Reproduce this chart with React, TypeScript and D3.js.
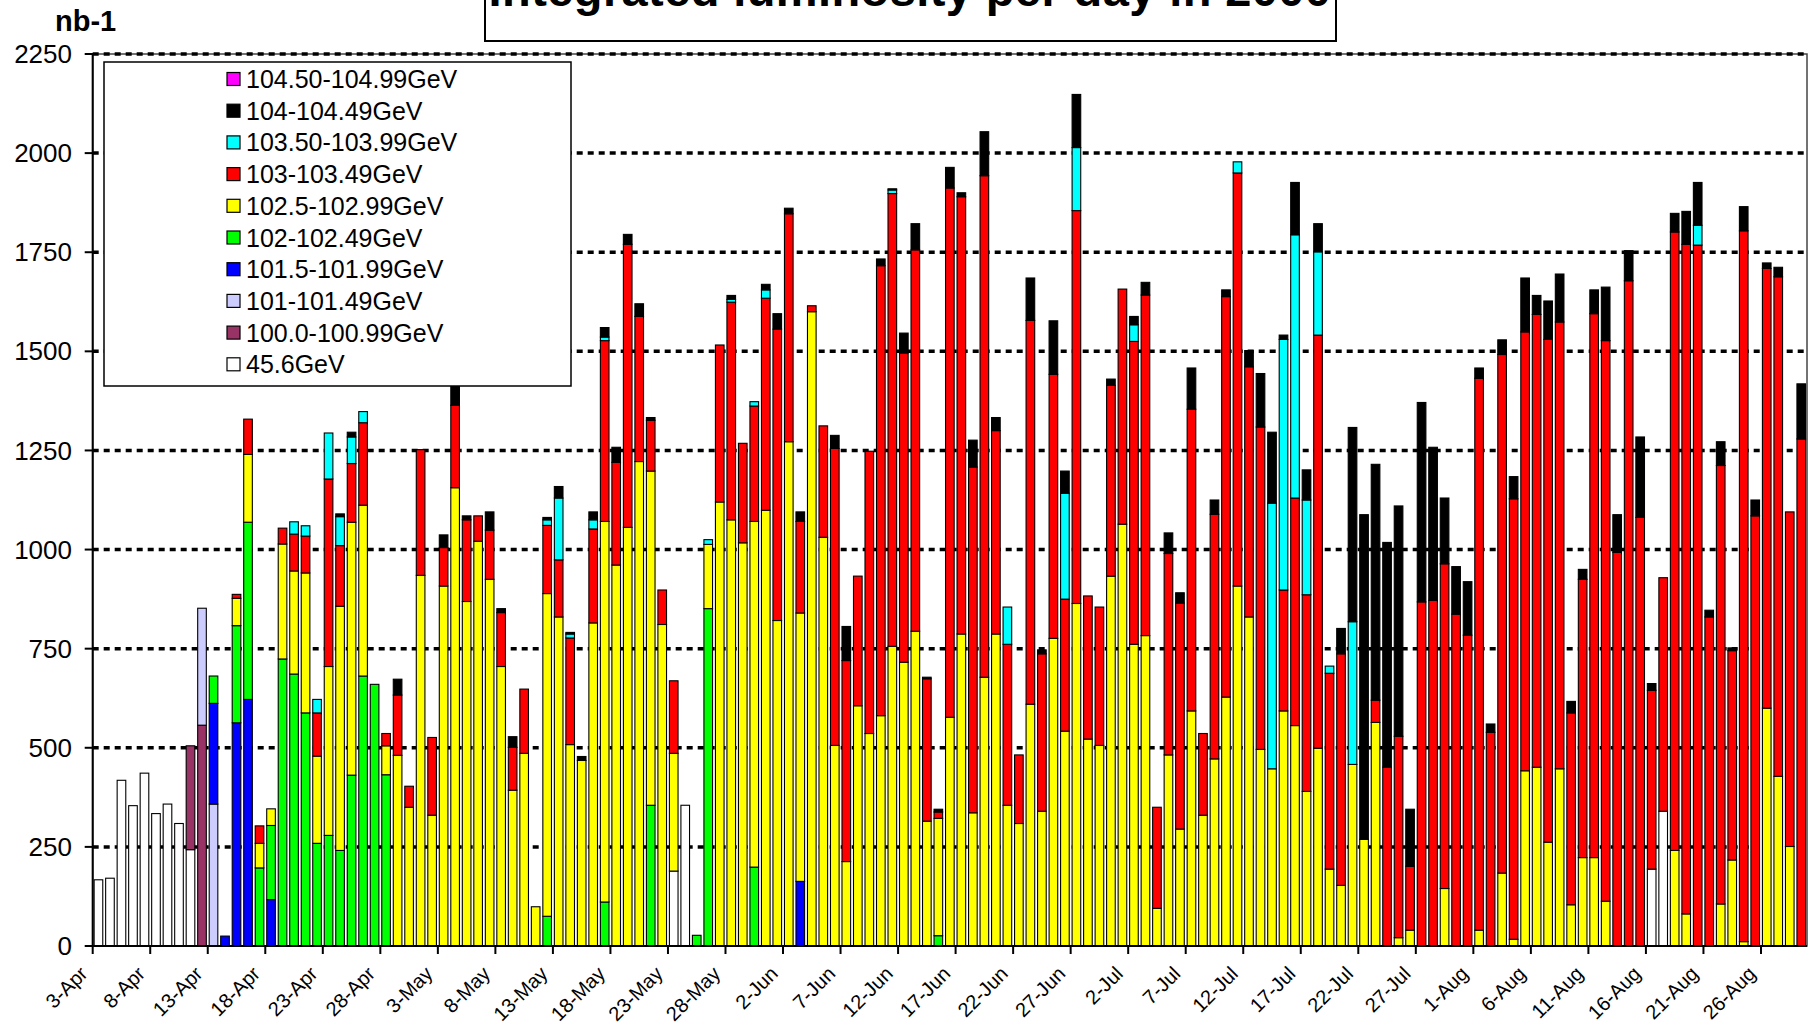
import * as d3 from "d3";

// categories: one bar per day, 3-Apr .. 29-Aug 2000
const days = d3.timeDay.range(new Date(2000, 3, 3), new Date(2000, 7, 30));
const fmtDay = d3.timeFormat("%-d-%b");
const categories = days.map((d) => fmtDay(d));

const tickLabels = [
  "3-Apr", "8-Apr", "13-Apr", "18-Apr", "23-Apr", "28-Apr", "3-May", "8-May", "13-May", "18-May",
  "23-May", "28-May", "2-Jun", "7-Jun", "12-Jun", "17-Jun", "22-Jun", "27-Jun", "2-Jul", "7-Jul",
  "12-Jul", "17-Jul", "22-Jul", "27-Jul", "1-Aug", "6-Aug", "11-Aug", "16-Aug", "21-Aug", "26-Aug",
];
const yTicks = [0, 250, 500, 750, 1000, 1250, 1500, 1750, 2000, 2250];

// daily integrated luminosity (nb-1) per energy bin, 149 days each
const gev456 = [
  167, 171, 418, 354, 436, 334, 358, 309, 243, 0,
  0, 0, 0, 0, 0, 0, 0, 0, 0, 0,
  0, 0, 0, 0, 0, 0, 0, 0, 0, 0,
  0, 0, 0, 0, 0, 0, 0, 0, 0, 0,
  0, 0, 0, 0, 0, 0, 0, 0, 0, 0,
  189, 355, 0, 0, 0, 0, 0, 0, 0, 0,
  0, 0, 0, 0, 0, 0, 0, 0, 0, 0,
  0, 0, 0, 0, 0, 0, 0, 0, 0, 0,
  0, 0, 0, 0, 0, 0, 0, 0, 0, 0,
  0, 0, 0, 0, 0, 0, 0, 0, 0, 0,
  0, 0, 0, 0, 0, 0, 0, 0, 0, 0,
  0, 0, 0, 0, 0, 0, 0, 0, 0, 0,
  0, 0, 0, 0, 0, 0, 0, 0, 0, 0,
  0, 0, 0, 0, 0, 194, 340, 0, 0, 0,
  0, 0, 0, 0, 0, 0, 0, 0, 0,
];
const gev100 = [
  0, 0, 0, 0, 0, 0, 0, 0, 262, 557,
  ...new Array(139).fill(0),
];
const gev101 = [
  0, 0, 0, 0, 0, 0, 0, 0, 0, 295,
  358, ...new Array(138).fill(0),
];
const gev1015 = [
  0, 0, 0, 0, 0, 0, 0, 0, 0, 0,
  254, 25, 563, 622, 0, 117, 0, 0, 0, 0,
  0, 0, 0, 0, 0, 0, 0, 0, 0, 0,
  0, 0, 0, 0, 0, 0, 0, 0, 0, 0,
  0, 0, 0, 0, 0, 0, 0, 0, 0, 0,
  0, 0, 0, 0, 0, 0, 0, 0, 0, 0,
  0, 163, 0, 0, 0, 0, 0, 0, 0, 0,
  ...new Array(79).fill(0),
];
const gev102 = [
  0, 0, 0, 0, 0, 0, 0, 0, 0, 0,
  69, 0, 245, 447, 197, 187, 724, 686, 588, 259,
  279, 241, 431, 681, 660, 432, 0, 0, 0, 0,
  0, 0, 0, 0, 0, 0, 0, 0, 0, 75,
  0, 0, 0, 0, 111, 0, 0, 0, 355, 0,
  0, 0, 27, 851, 0, 0, 0, 199, 0, 0,
  0, 0, 0, 0, 0, 0, 0, 0, 0, 0,
  0, 0, 0, 26, 0, 0, 0, 0, 0, 0,
  ...new Array(69).fill(0),
];
const gev1025 = [
  0, 0, 0, 0, 0, 0, 0, 0, 0, 0,
  0, 0, 69, 171, 62, 42, 290, 260, 353, 220,
  426, 616, 638, 431, 0, 73, 481, 350, 935, 330,
  908, 1156, 869, 1021, 925, 705, 393, 486, 99, 814,
  830, 508, 468, 815, 960, 961, 1056, 1222, 843, 811,
  297, 0, 0, 162, 1120, 1075, 1017, 872, 1099, 821,
  1272, 677, 1600, 1031, 506, 213, 606, 536, 581, 756,
  716, 794, 315, 296, 577, 787, 336, 678, 787, 355,
  309, 610, 340, 776, 542, 864, 522, 506, 933, 1064,
  761, 783, 95, 482, 295, 593, 330, 472, 628, 908,
  830, 496, 447, 593, 556, 390, 499, 194, 153, 458,
  269, 564, 0, 21, 40, 0, 0, 145, 0, 0,
  40, 0, 184, 17, 442, 451, 262, 447, 104, 223,
  223, 113, 0, 0, 0, 0, 0, 241, 81, 0,
  0, 106, 217, 11, 0, 600, 428, 251, 0,
];
const gev103 = [
  0, 0, 0, 0, 0, 0, 0, 0, 0, 0,
  0, 0, 10, 89, 44, 0, 40, 93, 93, 109,
  473, 153, 148, 208, 0, 31, 152, 53, 317, 196,
  97, 208, 206, 64, 124, 136, 108, 162, 0, 172,
  144, 269, 0, 237, 456, 259, 714, 366, 128, 87,
  183, 0, 0, 0, 396, 549, 251, 291, 535, 735,
  575, 231, 15, 281, 749, 507, 327, 712, 1135, 1142,
  780, 962, 359, 16, 1335, 1103, 872, 1265, 513, 406,
  173, 968, 397, 666, 333, 991, 361, 349, 481, 593,
  764, 859, 255, 508, 570, 761, 206, 617, 1010, 1042,
  631, 813, 0, 305, 574, 496, 1042, 494, 584, 0,
  0, 56, 451, 508, 161, 868, 872, 819, 837, 784,
  1392, 539, 1308, 1111, 1107, 1142, 1268, 1127, 484, 702,
  1372, 1414, 993, 1678, 1081, 451, 589, 1560, 1689, 1768,
  830, 1106, 528, 1793, 1085, 1109, 1260, 844, 1279,
];
const gev1035 = [
  0, 0, 0, 0, 0, 0, 0, 0, 0, 0,
  0, 0, 0, 0, 0, 0, 0, 31, 26, 34,
  116, 73, 67, 28, 0, 0, 0, 0, 0, 0,
  0, 0, 0, 0, 0, 0, 0, 0, 0, 14,
  156, 10, 0, 23, 9, 0, 0, 0, 0, 0,
  0, 0, 0, 12, 0, 7, 0, 11, 21, 0,
  0, 0, 0, 0, 0, 0, 0, 0, 0, 9,
  0, 0, 0, 0, 0, 0, 0, 0, 0, 94,
  0, 0, 0, 0, 267, 159, 0, 0, 0, 0,
  42, 0, 0, 0, 0, 0, 0, 0, 0, 28,
  0, 0, 670, 632, 664, 239, 210, 18, 0, 360,
  0, 0, 0, 0, 0, 0, 0, 0, 0, 0,
  0, 0, 0, 0, 0, 0, 0, 0, 0, 0,
  0, 0, 0, 0, 0, 0, 0, 0, 0, 50,
  0, 0, 0, 0, 0, 0, 0, 0, 0,
];
const gev104 = [
  0, 0, 0, 0, 0, 0, 0, 0, 0, 0,
  0, 0, 0, 0, 0, 0, 0, 0, 0, 0,
  0, 7, 12, 0, 0, 0, 40, 0, 0, 0,
  32, 86, 10, 0, 46, 10, 27, 0, 0, 6,
  29, 4, 10, 20, 24, 38, 25, 32, 7, 0,
  0, 0, 0, 0, 0, 10, 0, 0, 14, 39,
  14, 24, 0, 0, 33, 86, 0, 0, 17, 3,
  50, 66, 4, 7, 52, 10, 68, 111, 33, 0,
  0, 107, 10, 135, 56, 134, 0, 0, 16, 0,
  21, 32, 0, 52, 26, 104, 0, 36, 17, 0,
  41, 135, 179, 11, 132, 76, 71, 0, 64, 490,
  819, 595, 567, 581, 144, 503, 386, 166, 120, 135,
  26, 21, 37, 56, 136, 48, 97, 121, 29, 25,
  60, 135, 95, 76, 203, 17, 0, 47, 83, 108,
  17, 60, 7, 61, 40, 14, 24, 0, 139,
];
const gev1045 = new Array(149).fill(0);

const series = [
  { key: "45.6GeV", color: "#FFFFFF", values: gev456 },
  { key: "100.0-100.99GeV", color: "#993366", values: gev100 },
  { key: "101-101.49GeV", color: "#CCCCFF", values: gev101 },
  { key: "101.5-101.99GeV", color: "#0000FF", values: gev1015 },
  { key: "102-102.49GeV", color: "#00FF00", values: gev102 },
  { key: "102.5-102.99GeV", color: "#FFFF00", values: gev1025 },
  { key: "103-103.49GeV", color: "#FF0000", values: gev103 },
  { key: "103.50-103.99GeV", color: "#00FFFF", values: gev1035 },
  { key: "104-104.49GeV", color: "#000000", values: gev104 },
  { key: "104.50-104.99GeV", color: "#FF00FF", values: gev1045 },
];

const W = 1809, H = 1027;
const X0 = 92.7, X1 = 1807, Y0 = 54, Y1 = 946;
const FONT = "Arial, 'Liberation Sans', sans-serif";

export default function App() {
  const x = d3.scaleBand<string>().domain(categories).range([X0, X1]).paddingInner(0.25).paddingOuter(0.125);
  const y = d3.scaleLinear().domain([0, 2250]).range([Y1, Y0]);
  const half = (x.step() - x.bandwidth()) / 2;

  const table = categories.map((c, i) => {
    const row: any = { day: c };
    series.forEach((s) => (row[s.key] = s.values[i] || 0));
    return row;
  });
  const stacked = d3.stack<any>().keys(series.map((s) => s.key))(table);

  const legendItems = series.slice().reverse();

  return (
    <svg width={W} height={H} style={{ position: "absolute", left: 0, top: 0, background: "#fff" }} fontFamily={FONT}>
      <rect x={0} y={0} width={W} height={H} fill="#fff" />

      {/* title box, cut at the top */}
      <rect x={485} y={-60} width={851} height={101} fill="#fff" stroke="#000" strokeWidth={2} />
      <text x={910} y={6} textAnchor="middle" fontSize={47} fontWeight="bold" letterSpacing={0.4}>
        Integrated luminosity per day in 2000
      </text>

      <text x={55} y={31} fontSize={29} fontWeight="bold">nb-1</text>

      {/* plot frame */}
      <rect x={X0} y={Y0} width={X1 - X0} height={Y1 - Y0} fill="#fff" stroke="#444" strokeWidth={1.5} />

      {/* gridlines */}
      {yTicks.filter((v) => v > 0).map((v) => (
        <line key={v} x1={X0} x2={X1} y1={y(v)} y2={y(v)} stroke="#000" strokeWidth={3.5} strokeDasharray="6 5" />
      ))}

      {/* bars */}
      {stacked.map((layer, li) =>
        layer.map((d, i) =>
          d[1] - d[0] > 0 ? (
            <rect
              key={li + "-" + i}
              x={x(categories[i])}
              y={y(d[1])}
              width={x.bandwidth()}
              height={y(d[0]) - y(d[1])}
              fill={series[li].color}
              stroke="#000"
              strokeWidth={1.1}
            />
          ) : null
        )
      )}

      {/* y axis */}
      <line x1={X0} x2={X0} y1={Y0} y2={Y1} stroke="#000" strokeWidth={2} />
      {yTicks.map((v) => (
        <g key={v}>
          <line x1={X0 - 8} x2={X0 + 3} y1={y(v)} y2={y(v)} stroke="#000" strokeWidth={2} />
          <text x={72} y={y(v)} dy="0.35em" textAnchor="end" fontSize={26}>{v}</text>
        </g>
      ))}

      {/* x axis */}
      <line x1={X0} x2={X1} y1={Y1} y2={Y1} stroke="#000" strokeWidth={2} />
      {tickLabels.map((lab) => {
        const tx = (x(lab) as number) - half;
        return (
          <g key={lab}>
            <line x1={tx} x2={tx} y1={Y1} y2={Y1 + 8} stroke="#000" strokeWidth={2} />
            <text transform={`translate(${tx - 4},${975}) rotate(-45)`} textAnchor="end" fontSize={20}>{lab}</text>
          </g>
        );
      })}

      {/* legend */}
      <rect x={104} y={62} width={467} height={324} fill="#fff" stroke="#000" strokeWidth={1.5} />
      {legendItems.map((s, i) => {
        const cy = 79 + i * 31.7;
        return (
          <g key={s.key}>
            <rect x={227} y={cy - 6.5} width={13} height={13} fill={s.color} stroke="#000" strokeWidth={1.2} />
            <text x={246} y={cy} dy="0.36em" fontSize={25}>{s.key}</text>
          </g>
        );
      })}
    </svg>
  );
}
